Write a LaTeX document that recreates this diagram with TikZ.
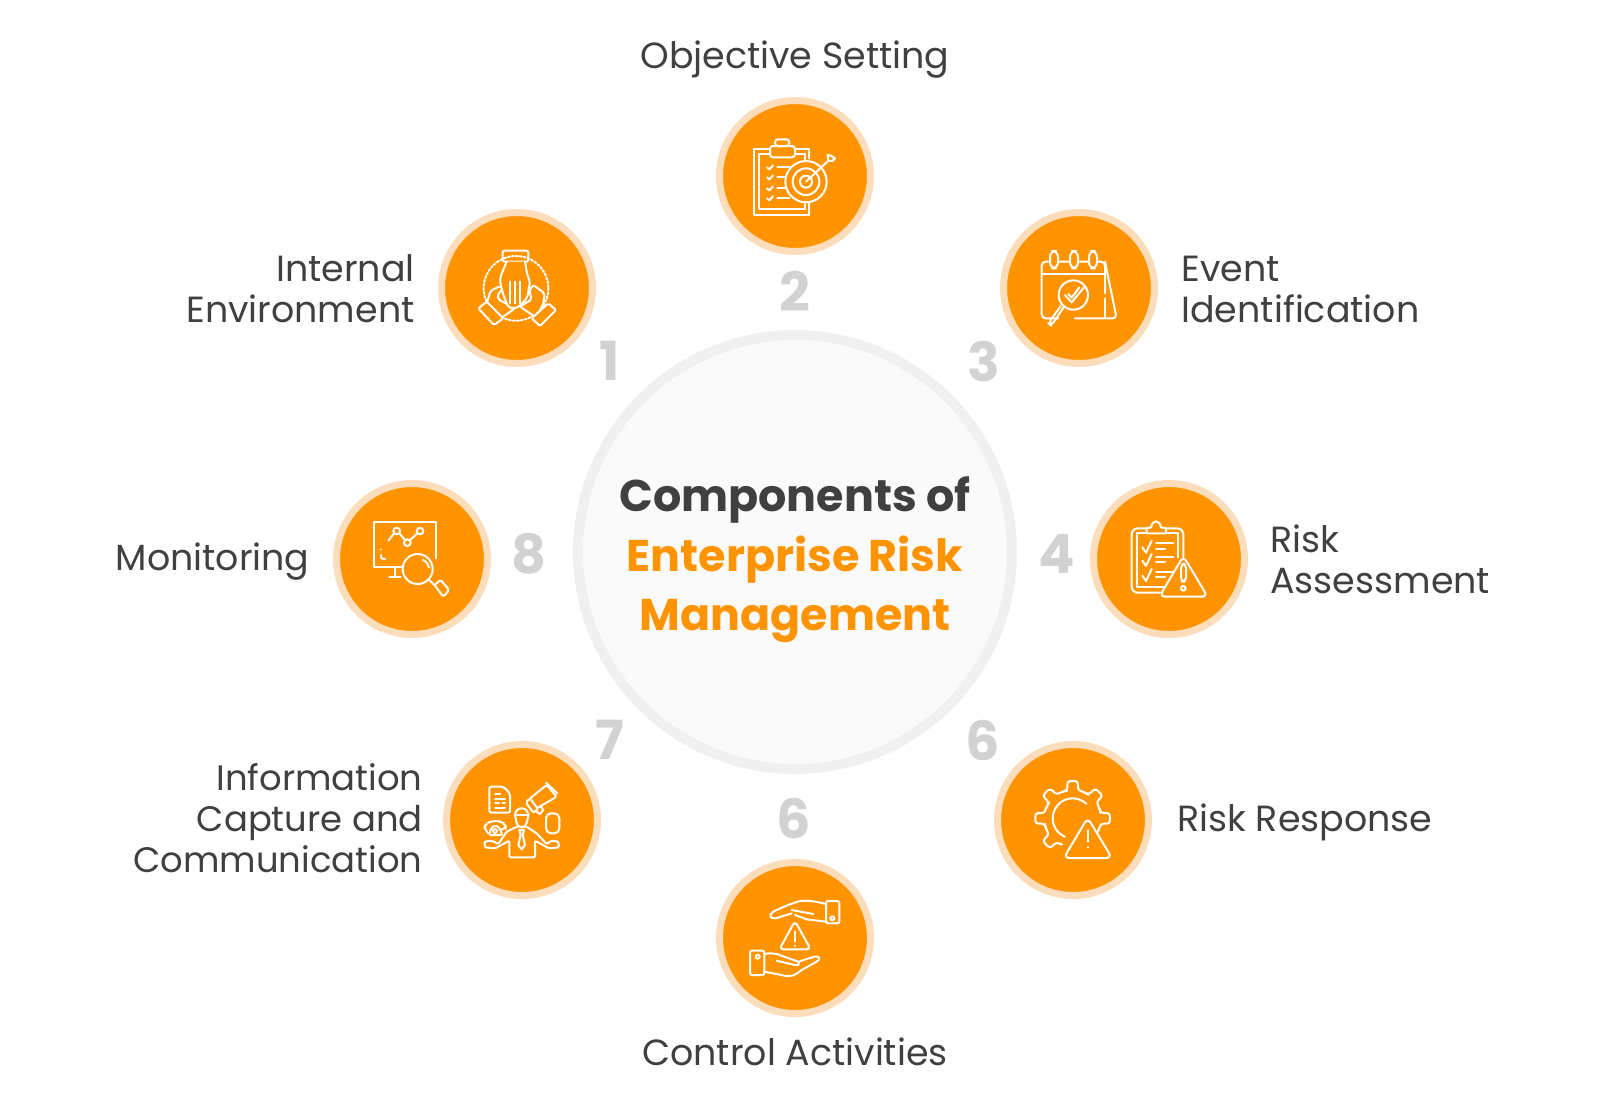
\documentclass[tikz,border=0pt]{standalone}
\usepackage{fontspec}
\setmainfont{Poppins}
\definecolor{erorange}{HTML}{FF9400}
\definecolor{erpeach}{HTML}{FCDDBB}
\definecolor{ertext}{HTML}{404040}
\definecolor{ernum}{HTML}{D2D2D2}
\tikzset{
  disc/.style={circle,fill=erorange,draw=erpeach,line width=3.5pt,minimum size=75.5pt,inner sep=0pt},
  hub/.style={circle,fill=black!2,draw=black!6,line width=5pt,minimum size=217pt,inner sep=0pt},
  lbl/.style={text=ertext,font=\fontsize{18.2}{20.5}\selectfont,inner sep=0pt},
  numlbl/.style={text=ernum,font=\fontsize{27}{27}\selectfont\bfseries,inner sep=0pt},
  iconbox/.style 2 args={shift={(#1,#2)},scale=1/3,white,line width=1pt,line cap=round,line join=round},
}
\begin{document}
\begin{tikzpicture}[x=0.5pt,y=-0.5pt]
  \useasboundingbox (0,0) rectangle (1600,1105);
  \node[hub] (centre) at (795,552) {};
  \node[align=center,inner sep=0pt,font=\fontsize{22.2}{29.8}\selectfont\bfseries,text=ertext] (title) at (795,560)
    {Components of\\\textcolor{erorange}{Enterprise Risk}\\\textcolor{erorange}{Management}};

  \node[disc] (internal) at (517,288) {};
  \node[disc] (objective) at (795,176) {};
  \node[disc] (event) at (1079,288) {};
  \node[disc] (assess) at (1169,559) {};
  \node[disc] (response) at (1073,820) {};
  \node[disc] (control) at (795,938) {};
  \node[disc] (info) at (522,820) {};
  \node[disc] (monitor) at (412,559) {};

  \node[lbl,align=right,anchor=east] (internalL) at (415,289) {Internal\\Environment};
  \node[lbl] (objectiveL) at (795,60) {Objective Setting};
  \node[lbl,align=left,anchor=west] (eventL) at (1181,289) {Event\\Identification};
  \node[lbl,align=left,anchor=west] (assessL) at (1270,559) {Risk\\Assessment};
  \node[lbl,anchor=west] (responseL) at (1177,822) {Risk Response};
  \node[lbl] (controlL) at (795,1052) {Control Activities};
  \node[lbl,align=right,anchor=east,font=\fontsize{17.7}{20.5}\selectfont] (infoL) at (423,818) {Information\\Capture and\\Communication};
  \node[lbl,anchor=east] (monitorL) at (310,562) {Monitoring};

  \node[numlbl] (n1) at (610,361) {1};
  \node[numlbl] (n2) at (795,291) {2};
  \node[numlbl] (n3) at (984,361) {3};
  \node[numlbl] (n4) at (1057,554) {4};
  \node[numlbl] (n5) at (983,740) {6};
  \node[numlbl] (n6) at (794,818) {6};
  \node[numlbl] (n7) at (610,740) {7};
  \node[numlbl] (n8) at (529,554) {8};

  \begin{scope}[iconbox={700}{90}]
    \draw (210,177) -- (163,177) -- (163,375) -- (328,375) -- (328,340);
    \draw (285,177) -- (328,177) -- (328,205);
    \draw (210,193) -- (178,193) -- (178,358) -- (315,358) -- (315,342);
    \draw (285,193) -- (315,193) -- (315,208);
    \draw[rounded corners=1.5pt] (210,168) rectangle (285,202);
    \draw[rounded corners=1.5pt] (225,148) rectangle (268,168);
    \foreach \y in {232,262,295,325} {
      \draw (201,\y) -- (208,\y+6) -- (219,\y-6);
      \draw (232,\y) -- (268,\y);
    }
    \draw[fill=erorange] (318,275) circle (62);
    \draw (318,275) circle (40);
    \draw (318,275) circle (18);
    \draw (318,275) -- (385,212);
    \draw (385,212) -- (383,195) -- (393,197) -- (405,205) -- (397,213) -- cycle;
  \end{scope}

  \begin{scope}[iconbox={470}{240}]
    \draw[densely dotted] (138,145) circle (97);
    \draw[rounded corners=1pt] (98,32) rectangle (175,65);
    \draw[fill=erorange,rounded corners=1pt] (50,190) -- (62,152) -- (90,138) -- (100,145) -- (82,165) -- (85,178) -- (135,205) -- (88,238) -- cycle;
    \draw[fill=erorange,rounded corners=1pt] (220,192) -- (224,160) -- (190,135) -- (178,150) -- (185,178) -- (150,200) -- (198,232) -- cycle;
    \draw[fill=erorange,rounded corners=1pt] (110,65) -- (92,108) -- (90,125) -- (100,165) -- (115,202) -- (135,205) -- (150,198) -- (172,172) -- (180,125) -- (172,105) -- (165,65);
    \foreach \x in {120,135,150} \draw (\x,125) -- (\x,190);
    \draw[fill=erorange,rounded corners=.7pt] (25,205) -- (50,185) -- (100,235) -- (72,255) -- cycle;
    \draw[fill=erorange,rounded corners=.7pt] (185,235) -- (235,190) -- (258,210) -- (210,258) -- cycle;
  \end{scope}

  \begin{scope}[iconbox={990}{200}]
    \draw[rounded corners=2pt] (205,355) -- (155,355) -- (155,185) -- (345,185) -- (345,280);
    \draw (345,295) -- (345,355);
    \draw[rounded corners=2pt] (255,355) -- (380,355) -- (345,185);
    \draw (155,222) -- (345,222);
    \foreach \x in {180,240,297}
      \draw[fill=erorange,rounded corners=3pt] (\x,153) rectangle (\x+24,205);
    \draw[fill=erorange] (250,285) circle (44);
    \draw (225,285) -- (245,307) -- (282,262);
    \draw (235,282) -- (245,293) -- (268,262);
    \draw[rounded corners=2pt] (222,320) -- (184,377) -- (175,370) -- (212,318);
  \end{scope}

  \begin{scope}[iconbox={1080}{470}]
    \draw[rounded corners=3pt] (240,368) -- (155,368) -- (155,175) -- (310,175) -- (310,262);
    \draw (250,350) -- (172,350) -- (172,190) -- (295,190) -- (295,262);
    \draw[fill=erorange] (200,190) -- (200,175) -- (213,172) .. controls (218,148) and (238,148) .. (243,172) -- (258,175) -- (258,190) -- cycle;
    \foreach \y in {232,272,317} {
      \draw (187,\y) -- (198,\y+16) -- (215,\y-20);
      \draw (228,\y-12) -- (280,\y-12);
      \draw (228,\y+5) -- (255,\y+5);
    }
    \draw[fill=erorange,rounded corners=3pt] (310,258) -- (383,380) -- (238,380) -- cycle;
    \draw[rounded corners=2pt] (303,282) rectangle (318,335);
    \draw (310,355) circle (7);
  \end{scope}

  \begin{scope}[iconbox={320}{470}]
    \draw (270,292) -- (162,292) -- (162,155) -- (347,155) -- (347,265);
    \draw (225,292) -- (225,320);
    \draw (208,322) -- (242,322);
    \draw (205,212) -- (222,190);
    \draw (238,190) -- (255,210);
    \draw (270,210) -- (292,190);
    \draw (230,183) circle (10);
    \draw (262,218) circle (10);
    \draw (300,183) circle (10);
    \draw (183,238) -- (183,238);
    \draw (183,255) -- (184,265) -- (195,267);
    \draw[fill=erorange] (293,297) circle (45);
    \draw (308,270) .. controls (320,275) and (325,282) .. (327,292);
    \draw (326,328) -- (343,345);
    \draw[rounded corners=1pt] (343,345) -- (362,330) -- (388,360) -- (370,380) -- cycle;
  \end{scope}

  \begin{scope}[iconbox={985}{730}]
    \begin{scope}[shift={(263,265)}]
      \foreach \a in {0,-45,-90,-135,-180,-225} {
        \draw[rounded corners=1.5pt] (\a+34:85) arc (\a+34:\a+11:85) -- (\a+8:113) -- (\a-8:113) -- (\a-11:85) arc (\a-11:\a-23:85);
      }
      \draw (-47:60) arc (-47:-247:60);
    \end{scope}
    \draw[fill=erorange,rounded corners=3pt] (308,263) -- (381,384) -- (236,384) -- cycle;
    \draw (308,300) -- (308,335);
    \draw (308,352) -- (308,353);
  \end{scope}

  \begin{scope}[iconbox={745}{890}]
    \draw[rounded corners=1pt] (243,33) rectangle (283,100);
    \draw (262,85) circle (6);
    \draw (243,42) .. controls (215,35) and (190,30) .. (165,33) .. controls (140,40) and (110,52) .. (85,65) .. controls (70,73) and (75,88) .. (92,85) -- (140,70);
    \draw (140,60) -- (205,72);
    \draw (150,75) -- (185,88) -- (243,95);
    \draw[rounded corners=2pt] (150,93) -- (197,178) -- (103,178) -- cycle;
    \draw (150,125) -- (150,155);
    \draw (150,167) -- (150,168);
    \draw[rounded corners=1pt] (15,182) rectangle (58,255);
    \draw (38,200) circle (6);
    \draw (58,192) .. controls (75,188) and (85,190) .. (95,192) -- (160,215) -- (208,200) .. controls (225,197) and (228,208) .. (215,215) -- (170,240) .. controls (150,255) and (140,260) .. (125,258) -- (58,245);
    \draw (95,212) -- (150,225) .. controls (160,228) and (165,222) .. (160,215);
  \end{scope}

  \begin{scope}[iconbox={475}{770}]
    \draw[rounded corners=1pt] (43,50) -- (85,50) -- (105,70) -- (105,128) -- (43,128) -- cycle;
    \draw (60,72) -- (75,72);
    \draw (60,88) -- (90,88);
    \draw (60,100) -- (72,100);
    \draw (82,100) -- (90,100);
    \draw (60,113) -- (90,113);
    \draw[rounded corners=1pt] (165,85) -- (215,45) -- (245,80) -- (185,115);
    \draw[rounded corners=1pt] (152,97) -- (165,85) -- (190,118) -- (175,128) -- cycle;
    \draw (180,122) -- (195,132) -- (205,120) -- (197,108);
    \draw (213,38) -- (247,70);
    \draw[rounded corners=2.5pt] (213,130) rectangle (253,190);
    \draw[rounded corners=2pt] (40,190) -- (28,178) -- (30,162) -- (50,153) -- (78,153) -- (92,165) -- (92,178) -- (82,178);
    \draw[rounded corners=1pt] (42,195) -- (48,175) -- (60,165) -- (75,175) -- (82,195) -- cycle;
    \draw (60,183) circle (6);
    \draw[fill=erorange,rounded corners=.6pt] (125,170) -- (95,185) -- (70,222) -- (50,212) -- (28,215) -- (30,232) -- (60,235) -- (103,212) -- (103,262) -- (180,262) -- (180,212) -- (222,235) -- (252,232) -- (250,215) -- (230,212) -- (215,222) -- (185,190) -- (155,170) -- cycle;
    \draw[fill=erorange] (120,135) .. controls (122,108) and (158,108) .. (160,135) -- (156,155) .. controls (150,178) and (130,178) .. (124,155) -- cycle;
    \draw (120,135) -- (160,135);
    \draw (133,180) -- (147,180) -- (143,194) -- (150,225) -- (140,238) -- (130,225) -- (137,194) -- cycle;
  \end{scope}
\end{tikzpicture}
\end{document}
